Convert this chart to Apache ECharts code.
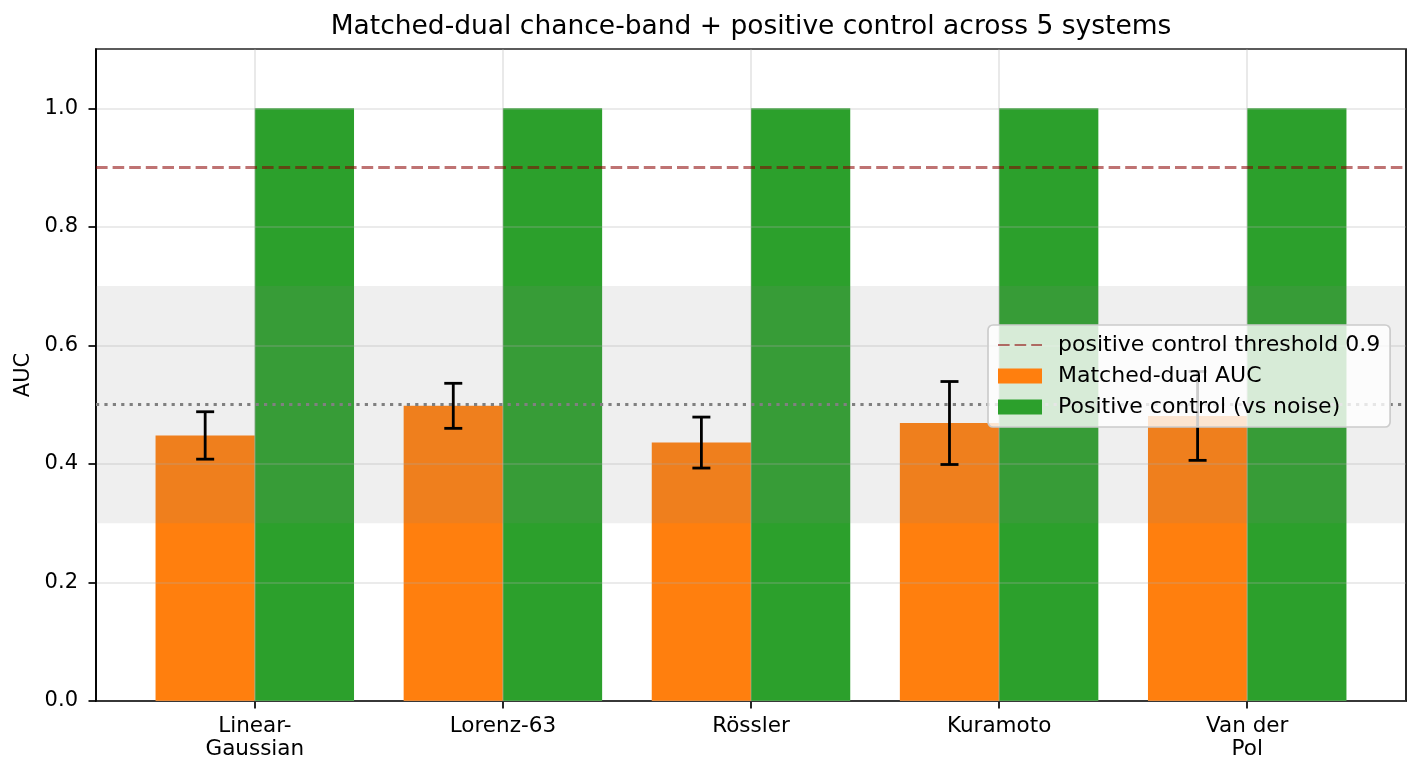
<!DOCTYPE html>
<html lang="en">
<head>
<meta charset="UTF-8">
<title>Matched-dual chance-band</title>
<script src="https://cdn.jsdelivr.net/npm/echarts@6/dist/echarts.min.js"></script>
<style>
  html, body { margin: 0; padding: 0; background: #fff; }
  #chart { width: 1421px; height: 776px; }
</style>
</head>
<body>
<div id="chart"></div>
<script>
// data
const systems = ['Linear-\nGaussian', 'Lorenz-63', 'Rössler', 'Kuramoto', 'Van der\nPol'];
const matchedAuc = [0.448, 0.498, 0.436, 0.469, 0.481];
const matchedErr = [0.040, 0.038, 0.043, 0.070, 0.075];
const positiveAuc = [1.0, 1.0, 1.0, 1.0, 1.0];
const chanceBand = [0.3, 0.7];
const chanceLevel = 0.5;
const threshold = 0.9;
const yTicks = [0, 0.2, 0.4, 0.6, 0.8, 1.0];

const FONT = 'DejaVu Sans';
const barW = 0.4;
const LW = 1.7;
const GRID_COLOR = 'rgba(176,176,176,0.33)';
const idx = systems.map((s, i) => i);

var chart = echarts.init(document.getElementById('chart'));

// one bar per category, drawn from its data through the axes
function barRenderer(side) {
  return function (params, api) {
    var i = api.value(0);
    var x0 = side < 0 ? i - barW : i;
    var p0 = api.coord([x0, api.value(1)]);
    var p1 = api.coord([x0 + barW, 0]);
    return {
      type: 'rect',
      shape: { x: p0[0], y: p0[1], width: p1[0] - p0[0], height: p1[1] - p0[1] },
      style: { fill: api.visual('color') }
    };
  };
}

function errRenderer(params, api) {
  var x = api.value(0) - barW / 2;
  var top = api.coord([x, api.value(1) + api.value(2)]);
  var bot = api.coord([x, api.value(1) - api.value(2)]);
  var cap = 9;
  var st = { stroke: '#000', lineWidth: 2.8 };
  return {
    type: 'group',
    children: [
      { type: 'line', shape: { x1: top[0], y1: top[1], x2: bot[0], y2: bot[1] }, style: st },
      { type: 'line', shape: { x1: top[0] - cap, y1: top[1], x2: top[0] + cap, y2: top[1] }, style: st },
      { type: 'line', shape: { x1: bot[0] - cap, y1: bot[1], x2: bot[0] + cap, y2: bot[1] }, style: st }
    ]
  };
}

// horizontal span across the whole plot
function bandRenderer(params, api) {
  var cs = params.coordSys;
  var yTop = api.coord([0, api.value(1)])[1];
  var yBot = api.coord([0, api.value(0)])[1];
  return {
    type: 'rect',
    shape: { x: cs.x, y: yTop, width: cs.width, height: yBot - yTop },
    style: { fill: 'rgba(128,128,128,0.13)' }
  };
}

var option = {
  animation: false,
  textStyle: { fontFamily: FONT },
  grid: {
    left: 96, top: 49, right: 15, bottom: 75,
    show: true, borderColor: '#000', borderWidth: LW
  },
  graphic: [{
    type: 'text', x: 751, y: 27,
    style: {
      text: 'Matched-dual chance-band + positive control across 5 systems',
      font: '26.5px "DejaVu Sans"', fill: '#000',
      textAlign: 'center', textVerticalAlign: 'middle'
    }
  }],
  legend: {
    orient: 'vertical', left: 988, top: 325, z: 10,
    padding: [9, 10, 9, 9], itemGap: 9,
    itemWidth: 44, itemHeight: 15,
    backgroundColor: 'rgba(255,255,255,0.8)',
    borderColor: '#cccccc', borderWidth: LW, borderRadius: 5,
    textStyle: { fontFamily: FONT, fontSize: 22, color: '#000', padding: [0, 0, 0, 11] },
    data: [
      { name: 'positive control threshold 0.9', itemStyle: { opacity: 0 } },
      { name: 'Matched-dual AUC', icon: 'rect' },
      { name: 'Positive control (vs noise)', icon: 'rect' }
    ]
  },
  xAxis: {
    type: 'value', min: -0.64, max: 4.64,
    axisLine: { onZero: false, lineStyle: { color: '#000', width: LW } },
    axisTick: { customValues: idx, length: 7.5, lineStyle: { color: '#000', width: LW } },
    axisLabel: {
      customValues: idx, margin: 14,
      formatter: v => systems[Math.round(v)],
      color: '#000', fontSize: 21.5, lineHeight: 23, fontFamily: FONT
    },
    splitLine: { show: false }
  },
  yAxis: {
    type: 'value', min: 0, max: 1.1, interval: 0.2, z: 3,
    name: 'AUC', nameLocation: 'middle', nameGap: 62,
    nameTextStyle: { fontFamily: FONT, fontSize: 21, color: '#000' },
    axisLine: { show: true, onZero: false, lineStyle: { color: '#000', width: LW } },
    axisTick: { show: true, length: 7.5, lineStyle: { color: '#000', width: LW } },
    axisLabel: {
      margin: 18, color: '#000', fontSize: 21, fontFamily: FONT,
      showMaxLabel: false,
      formatter: v => yTicks.indexOf(Math.round(v * 10) / 10) >= 0 ? v.toFixed(1) : ''
    },
    splitLine: { show: true, lineStyle: { color: GRID_COLOR, width: LW } }
  },
  series: [
    {
      name: 'Matched-dual AUC', type: 'custom', z: 2,
      itemStyle: { color: '#ff7f0e' },
      renderItem: barRenderer(-1),
      encode: { x: 0, y: 1 },
      data: idx.map(i => [i, matchedAuc[i]])
    },
    {
      name: 'Positive control (vs noise)', type: 'custom', z: 2,
      itemStyle: { color: '#2ca02c' },
      renderItem: barRenderer(1),
      encode: { x: 0, y: 1 },
      data: idx.map(i => [i, positiveAuc[i]])
    },
    {
      // vertical grid lines, over the bars like the y grid
      type: 'line', data: [], z: 3, silent: true,
      markLine: {
        silent: true, symbol: 'none', label: { show: false }, z: 3,
        lineStyle: { color: GRID_COLOR, width: LW, type: 'solid' },
        data: idx.map(i => ({ xAxis: i }))
      }
    },
    {
      // chance band
      type: 'custom', z: 4, silent: true,
      renderItem: bandRenderer,
      encode: { y: [0, 1] },
      data: [[chanceBand[0], chanceBand[1]]]
    },
    {
      // chance level
      type: 'line', data: [], z: 5, silent: true,
      markLine: {
        silent: true, symbol: 'none', label: { show: false },
        lineStyle: { color: '#808080', width: 3.2, type: [3.2, 5.2] },
        data: [{ yAxis: chanceLevel }]
      }
    },
    {
      name: 'positive control threshold 0.9', type: 'line', data: [], z: 5,
      symbol: 'none',
      itemStyle: { color: 'rgba(139,0,0,0.55)' },
      lineStyle: { color: 'rgba(139,0,0,0.55)', width: 3.2, type: [11.6, 5] },
      markLine: {
        silent: true, symbol: 'none', label: { show: false },
        lineStyle: { color: 'rgba(139,0,0,0.55)', width: 3.2, type: [11.6, 5] },
        data: [{ yAxis: threshold }]
      }
    },
    {
      type: 'custom', z: 6, silent: true,
      renderItem: errRenderer,
      encode: { x: 0, y: 1 },
      data: idx.map(i => [i, matchedAuc[i], matchedErr[i]])
    }
  ]
};

chart.setOption(option);
</script>
</body>
</html>
